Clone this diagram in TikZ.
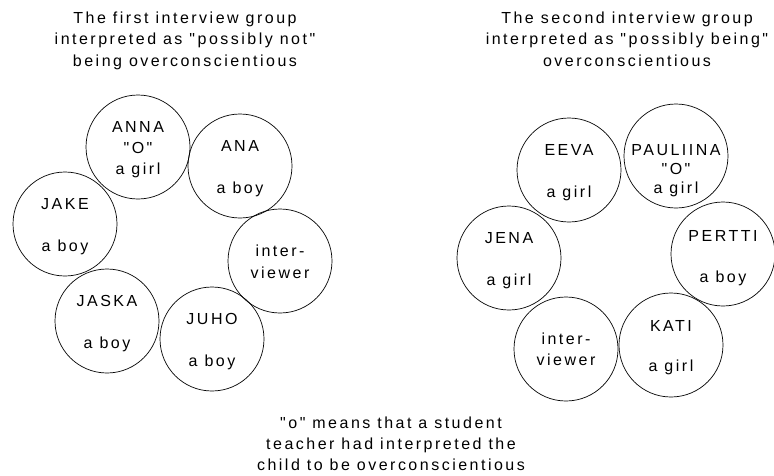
\documentclass[tikz,border=0pt]{standalone}
\usepackage{fontspec}
\setmainfont{Liberation Sans}
\newfontfamily\lab[LetterSpace=15.6]{Liberation Sans}
\begin{document}
\begin{tikzpicture}[x=1pt,y=-1pt,
  person/.style={circle,draw,line width=0.7pt,minimum size=104pt,inner sep=0pt},
  txt/.style={font=\lab\fontsize{16}{20}\selectfont,inner sep=0pt,anchor=base}]
\useasboundingbox (0,0) rectangle (774,475);
% titles
\node[txt] (t1a) at (185,23) {The first interview group};
\node[txt] (t1b) at (185,44.5) {interpreted as "possibly not"};
\node[txt] (t1c) at (185,66) {being overconscientious};
\node[txt] (t2a) at (627,23) {The second interview group};
\node[txt] (t2b) at (627,44.5) {interpreted as "possibly being"};
\node[txt] (t2c) at (627,66) {overconscientious};
% left group
\node[person] (anna) at (138,147) {};
\node[txt] (anna1) at (138,132) {ANNA};
\node[txt] (anna2) at (138,153) {"O"};
\node[txt] (anna3) at (138,174) {a girl};
\node[person] (ana) at (240,166) {};
\node[txt] (ana1) at (240,151) {ANA};
\node[txt] (ana3) at (240,193) {a boy};
\node[person] (jake) at (65,224) {};
\node[txt] (jake1) at (65,209) {JAKE};
\node[txt] (jake3) at (65,251) {a boy};
\node[person] (intl) at (280,261) {};
\node[txt] (intl1) at (280,256.5) {inter-};
\node[txt] (intl2) at (280,278) {viewer};
\node[person] (jaska) at (107,321) {};
\node[txt] (jaska1) at (107,306) {JASKA};
\node[txt] (jaska3) at (107,348) {a boy};
\node[person] (juho) at (212,339) {};
\node[txt] (juho1) at (212,324) {JUHO};
\node[txt] (juho3) at (212,366) {a boy};
% right group
\node[person] (eeva) at (569,170) {};
\node[txt] (eeva1) at (569,155) {EEVA};
\node[txt] (eeva3) at (569,197) {a girl};
\node[person] (paul) at (676,156) {};
\node[txt] (paul1) at (676,155) {PAULIINA};
\node[txt] (paul2) at (676,174) {"O"};
\node[txt] (paul3) at (676,193) {a girl};
\node[person] (jena) at (509,258) {};
\node[txt] (jena1) at (509,243) {JENA};
\node[txt] (jena3) at (509,285) {a girl};
\node[person] (pertti) at (723,254) {};
\node[txt] (pertti1) at (723,241) {PERTTI};
\node[txt] (pertti3) at (723,282) {a boy};
\node[person] (intr) at (566,349) {};
\node[txt] (intr1) at (566,344) {inter-};
\node[txt] (intr2) at (566,365.5) {viewer};
\node[person] (kati) at (671,345) {};
\node[txt] (kati1) at (671,331) {KATI};
\node[txt] (kati3) at (671,371) {a girl};
% bottom note
\node[txt] (n1) at (391,428) {"o" means that a student};
\node[txt] (n2) at (391,449.5) {teacher had interpreted the};
\node[txt] (n3) at (391,470) {child to be overconscientious};
\end{tikzpicture}
\end{document}
